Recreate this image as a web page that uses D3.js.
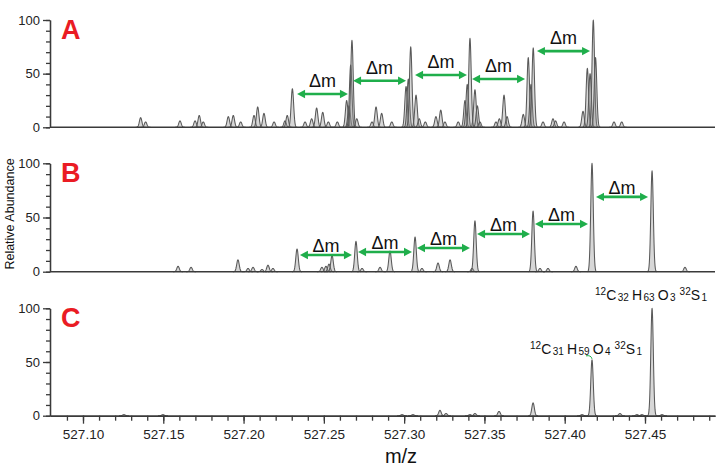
<!DOCTYPE html>
<html><head><meta charset="utf-8">
<script src="https://cdn.jsdelivr.net/npm/d3@7/dist/d3.min.js"></script>
<style>html,body{margin:0;padding:0;background:#fff;}svg{display:block;font-family:"Liberation Sans",Arial,sans-serif;}</style>
</head><body><svg id="chart" width="720" height="468"></svg>
<script>
// ---------- data ----------
const panelLabels = ["A", "B", "C"];
const yTickValues = [0, 50, 100];
const xTickLabels = ["527.10", "527.15", "527.20", "527.25", "527.30", "527.35", "527.40", "527.45"];
const xLabel = "m/z";
const yLabel = "Relative Abundance";
const arrowText = "Δm";

const peaksA_mz = [527.1359,527.1390,527.1604,527.1698,527.1724,527.1749,527.1905,527.1936,527.1982,527.2065,527.2088,527.2127,527.2190,527.2258,527.2272,527.2304,527.2383,527.2424,527.2455,527.2493,527.2528,527.2584,527.2642,527.2657,527.2667,527.2675,527.2705,527.2800,527.2825,527.2860,527.2923,527.3012,527.3026,527.3041,527.3074,527.3094,527.3132,527.3198,527.3228,527.3254,527.3337,527.3379,527.3393,527.3410,527.3441,527.3456,527.3472,527.3572,527.3593,527.3622,527.3641,527.3742,527.3773,527.3790,527.3804,527.3865,527.3927,527.3943,527.3996,527.4114,527.4141,527.4158,527.4178,527.4192,527.4307,527.4355];
const peaksA_int = [9,5,6,6,11,5,10,11,5,11,19,13,5,6,11,36,5,8,18,14,5,5,25,20,58,81,8,5,19,13,5,38,45,75,30,8,5,10,16,5,5,25,40,83,35,20,5,5,8,30,10,12,65,40,74,5,8,6,5,15,55,50,100,65,5,5];

const peaksB_mz = [527.1592,527.1673,527.1965,527.2028,527.2059,527.2115,527.2152,527.2183,527.2333,527.2488,527.2513,527.2532,527.2551,527.2700,527.2738,527.2850,527.2912,527.3068,527.3111,527.3211,527.3286,527.3423,527.3441,527.3803,527.3846,527.3896,527.4070,527.4170,527.4544,527.4749];
const peaksB_int = [5,4,11,3,4,2,6,3,21,4,5,7,15,28,3,4,19,32,3,8,11,3,47,56,3,3,5,100,93,4];

const peaksC_mz = [527.1255,527.1498,527.2987,527.3055,527.3223,527.3261,527.3410,527.3441,527.3591,527.3803,527.4108,527.4170,527.4344,527.4450,527.4481,527.4544,527.4606];
const peaksC_int = [1,1,1,1,5,2,1,2,4,12,1,52,2,1,1,100,1];

// arrows: start m/z, end m/z, level (relative abundance)
const arrowsA_from = [527.2333,527.2682,527.3068,527.3423,527.3827];
const arrowsA_to   = [527.2650,527.3012,527.3391,527.3753,527.4158];
const arrowsA_lvl  = [31,43.4,48.7,45,71];
const arrowsB_from = [527.2351,527.2713,527.3080,527.3454,527.3815,527.4195];
const arrowsB_to   = [527.2675,527.3049,527.3410,527.3784,527.4145,527.4519];
const arrowsB_lvl  = [15.4,18.2,21.9,34.8,44,69];

// formula annotations in C (m/z of peak they refer to)
const formulaMz = [527.4170, 527.4544];
const formulaParts = [
  [["12","sup"],["C","n"],["31","sub"],["H","n"],["59","sub"],["O","n"],["4","sub"],["32","sup"],["S","n"],["1","sub"]],
  [["12","sup"],["C","n"],["32","sub"],["H","n"],["63","sub"],["O","n"],["3","sub"],["32","sup"],["S","n"],["1","sub"]]
];

// ---------- layout ----------
const svg = d3.select("#chart");
const x = d3.scaleLinear().domain([527.07945, 527.4936]).range([50, 715]);
const panelRanges = [[127.3, 20], [271.7, 163.3], [415.7, 308.3]];
const green = "#1fae4b", red = "#ea1c24", axisCol = "#3a3a3a";
const sigmaPx = 1.25;
const sigma = sigmaPx / (x(1) - x(0));

const panels = [
  {mz: peaksA_mz, inten: peaksA_int, af: arrowsA_from, at: arrowsA_to, al: arrowsA_lvl, gap: 7},
  {mz: peaksB_mz, inten: peaksB_int, af: arrowsB_from, at: arrowsB_to, al: arrowsB_lvl, gap: 3},
  {mz: peaksC_mz, inten: peaksC_int, af: [], at: [], al: [], gap: 0}
];

const ks = d3.range(-4, 4.001, 0.2);

panels.forEach((p, i) => {
  const y = d3.scaleLinear().domain([0, 100]).range(panelRanges[i]);
  const g = svg.append("g");

  // peaks
  const line = d3.line().x(d => x(d[0])).y(d => y(d[1]));
  p.mz.forEach((m, j) => {
    const h = p.inten[j];
    const pts = ks.map(k => [m + k * sigma, h * Math.exp(-k * k / 2)]);
    g.append("path").attr("d", line(pts))
      .attr("fill", "rgba(140,140,140,0.35)").attr("stroke", "#595959")
      .attr("stroke-width", 1.05).attr("stroke-linejoin", "round");
  });

  // y axis major & minor
  const yMinor = d3.axisLeft(y).tickValues(d3.range(0, 101, 10)).tickSize(4).tickFormat("").tickSizeOuter(0);
  const gm = g.append("g").attr("transform", "translate(50,0)").call(yMinor);
  const yMajor = d3.axisLeft(y).tickValues(yTickValues).tickSize(7).tickPadding(3).tickSizeOuter(0);
  const gy = g.append("g").attr("transform", "translate(50,0)").call(yMajor);
  [gm, gy].forEach(a => {
    a.selectAll("path,line").attr("stroke", axisCol).attr("stroke-width", 1.3);
    a.selectAll("text").attr("font-size", 13).attr("fill", "#222").attr("font-family", "'Liberation Sans', Arial, sans-serif");
  });

  // x axis
  if (i < 2) {
    g.append("line").attr("x1", x.range()[0]).attr("x2", x.range()[1])
      .attr("y1", y(0)).attr("y2", y(0)).attr("stroke", axisCol).attr("stroke-width", 1.6);
  } else {
    const minorVals = d3.range(9, 50).map(v => 527 + v / 100);
    const xMinor = d3.axisBottom(x).tickValues(minorVals).tickSize(5).tickFormat("").tickSizeOuter(0);
    const gx1 = g.append("g").attr("transform", `translate(0,${y(0)})`).call(xMinor);
    const majorVals = xTickLabels.map(Number);
    const xMajor = d3.axisBottom(x).tickValues(majorVals).tickSize(8).tickPadding(6)
      .tickFormat((d, k) => xTickLabels[k]).tickSizeOuter(0);
    const gx2 = g.append("g").attr("transform", `translate(0,${y(0)})`).call(xMajor);
    [gx1, gx2].forEach(a => {
      a.selectAll("path").attr("stroke", axisCol).attr("stroke-width", 1.6);
      a.selectAll("line").attr("stroke", axisCol).attr("stroke-width", 1.3);
      a.selectAll("text").attr("font-size", 13.5).attr("fill", "#222").attr("font-family", "'Liberation Sans', Arial, sans-serif");
    });
  }

  // arrows
  p.af.forEach((f, j) => {
    const x1 = x(f), x2 = x(p.at[j]), yy = y(p.al[j]);
    const hl = 8, hw = 4.2;
    g.append("line").attr("x1", x1 + hl - 1).attr("x2", x2 - hl + 1).attr("y1", yy).attr("y2", yy)
      .attr("stroke", green).attr("stroke-width", 2.6);
    g.append("path").attr("d", `M${x1},${yy}L${x1 + hl},${yy - hw}L${x1 + hl},${yy + hw}Z`).attr("fill", green);
    g.append("path").attr("d", `M${x2},${yy}L${x2 - hl},${yy - hw}L${x2 - hl},${yy + hw}Z`).attr("fill", green);
    g.append("text").attr("x", (x1 + x2) / 2).attr("y", yy - p.gap)
      .attr("text-anchor", "middle").attr("font-size", 18).attr("fill", "#111").text(arrowText);
  });

  // panel letter
  g.append("text").attr("x", 61).attr("y", panelRanges[i][1] + 18.5)
    .attr("font-size", 27).attr("font-weight", "bold").attr("fill", red)
    .attr("font-family", "'Liberation Sans', Arial, sans-serif").text(panelLabels[i]);

  // formulas (panel C)
  if (i === 2) {
    const pos = [[530, 354], [595, 300]];
    formulaMz.forEach((m, j) => {
      const t = g.append("text").attr("x", pos[j][0]).attr("y", pos[j][1]).attr("fill", "#111");
      let cur = 0;
      formulaParts[j].forEach((part, k) => {
        const [s, kind] = part;
        const target = kind === "sup" ? -5 : kind === "sub" ? 1 : 0;
        const ts = t.append("tspan").attr("dy", target - cur).attr("font-size", kind === "n" ? 14 : 10).text(s);
        if (kind === "sub") ts.attr("dx", 1.5);
        if (kind === "sup" && k > 0) ts.attr("dx", 4);
        if (kind === "n" && k > 0 && formulaParts[j][k - 1][1] === "sub") ts.attr("dx", 3);
        cur = target;
      });
    });
    // small green mark above the 527.417 peak
    const yc = y(peaksC_int[11]);
    g.append("path").attr("d", `M${x(formulaMz[0]) - 6},${yc - 4}Q${x(formulaMz[0]) - 1},${yc - 5} ${x(formulaMz[0])},${yc - 1}`)
      .attr("fill", "none").attr("stroke", green).attr("stroke-width", 1);
  }
});

// axis titles
svg.append("text").attr("transform", "translate(13.5,214) rotate(-90)")
  .attr("text-anchor", "middle").attr("font-size", 12.5).attr("fill", "#111").text(yLabel);
svg.append("text").attr("x", 401).attr("y", 463).attr("text-anchor", "middle")
  .attr("font-size", 20).attr("fill", "#111").text(xLabel);
</script></body></html>
